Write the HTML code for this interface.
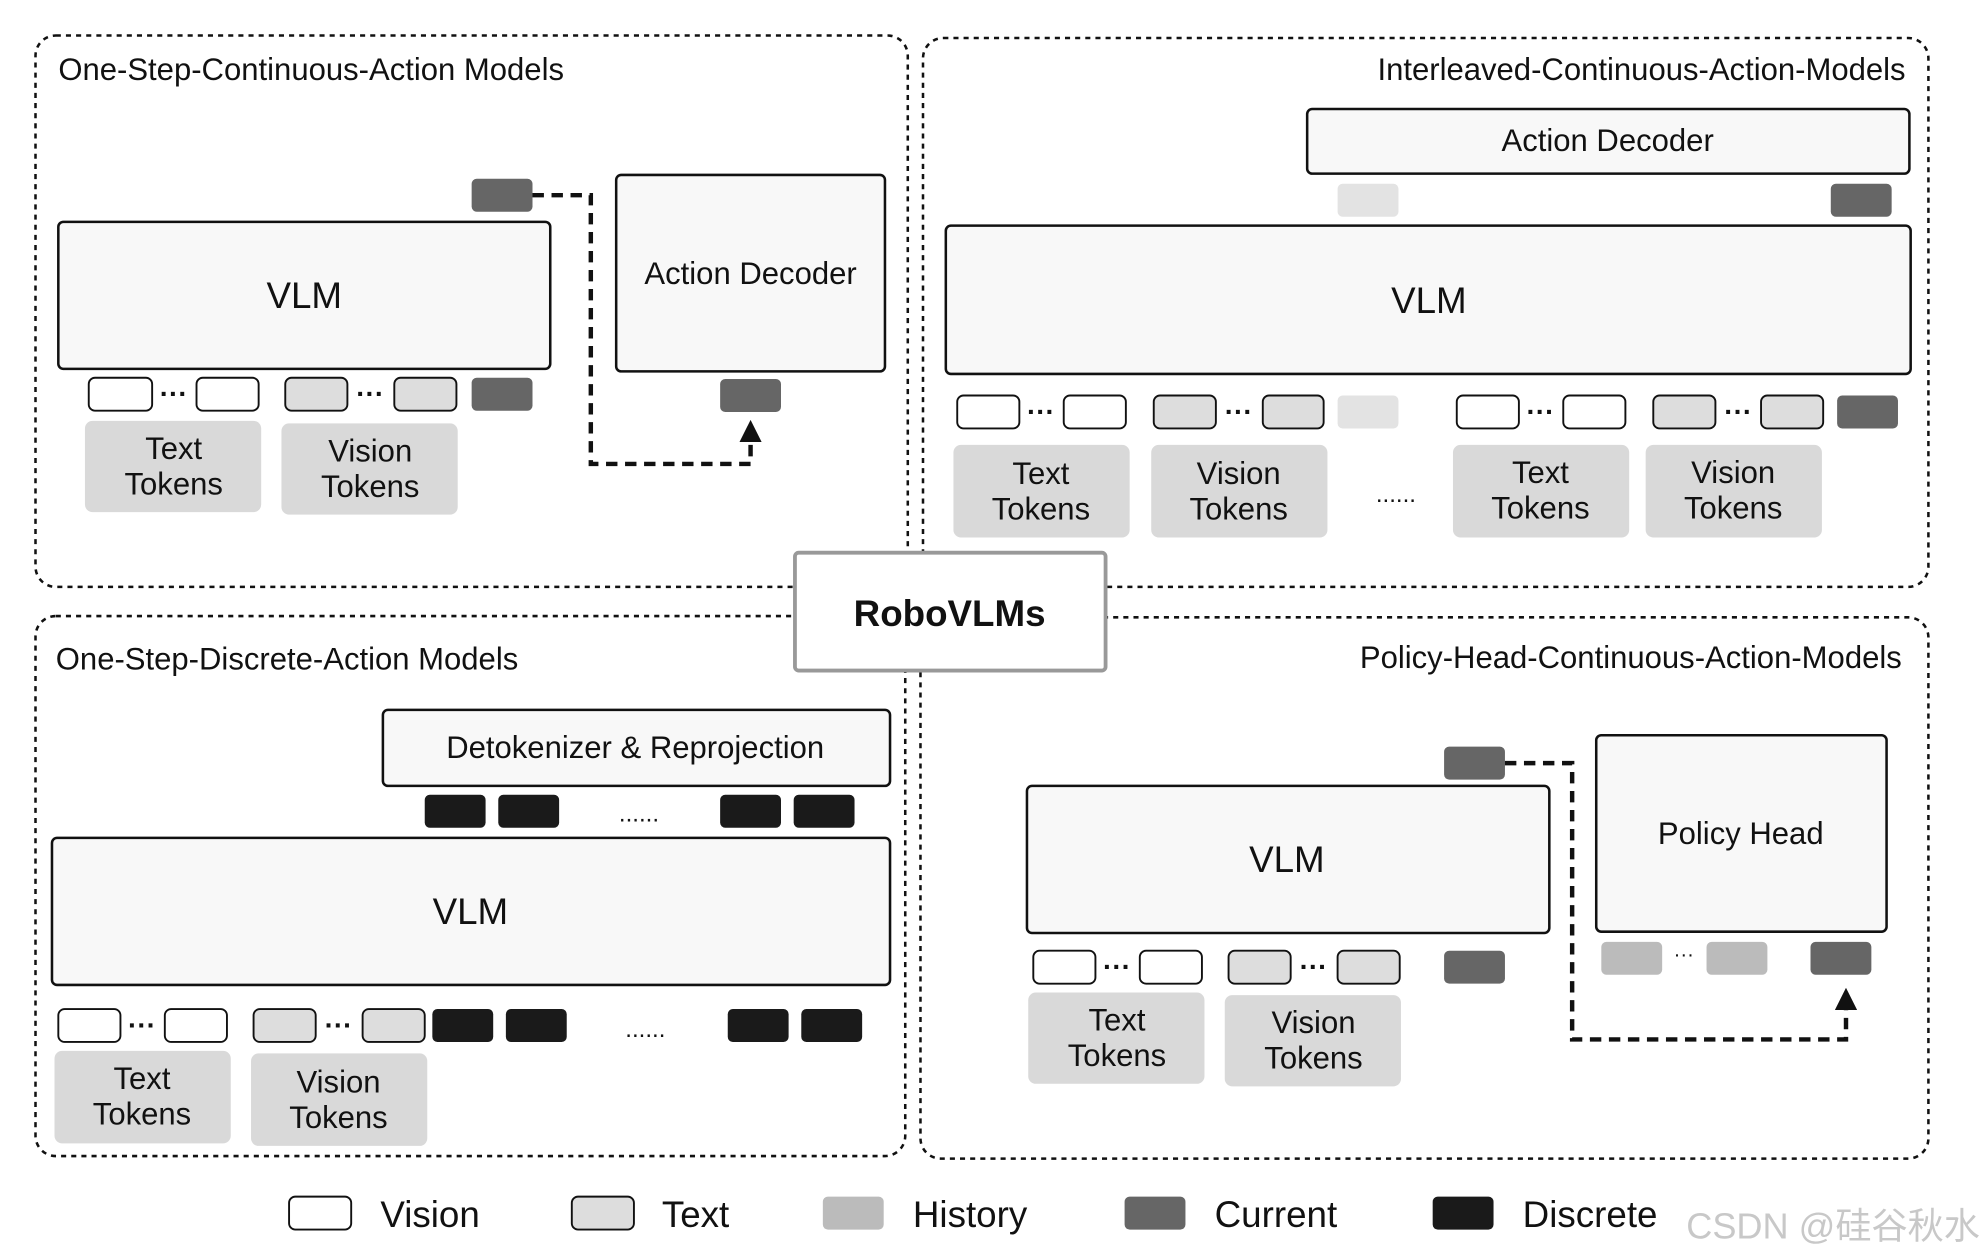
<!DOCTYPE html>
<html><head><meta charset="utf-8"><style>
html,body{margin:0;padding:0;background:#fff;}
svg{display:block;}
text{font-family:"Liberation Sans","Noto Sans CJK SC",sans-serif;fill:#111;}
</style></head><body>
<svg width="1988" height="1260" viewBox="0 0 1568 994" preserveAspectRatio="none" xmlns="http://www.w3.org/2000/svg">
<defs>
<marker id="ah" markerWidth="5" markerHeight="5" refX="2.5" refY="2.5" orient="auto"><path d="M0,0 L5,2.5 L0,5 Z" fill="#111"/></marker>
</defs>
<rect width="1568" height="994" fill="#fff"/>
<g fill="none" stroke="#111" stroke-width="2" stroke-dasharray="4,4">
<rect x="28" y="28" width="688" height="435" rx="16"/>
<rect x="728" y="30" width="793" height="433" rx="16"/>
<rect x="28" y="486" width="686" height="426" rx="16"/>
<rect x="726" y="487" width="795" height="427" rx="16"/>
</g>
<!-- TL -->
<text x="46" y="63" font-size="24.5">One-Step-Continuous-Action Models</text>
<rect x="46" y="175" width="388" height="116" rx="4" fill="#f8f8f8" stroke="#111" stroke-width="2"/>
<text x="240" y="243" font-size="29" text-anchor="middle">VLM</text>
<g stroke="#111" stroke-width="1.5">
<rect x="70" y="298" width="50" height="26" rx="5" fill="#fff"/><rect x="155" y="298" width="49" height="26" rx="5" fill="#fff"/>
<rect x="225" y="298" width="49" height="26" rx="5" fill="#ddd"/><rect x="311" y="298" width="49" height="26" rx="5" fill="#ddd"/>
</g>
<rect x="372" y="298" width="48" height="26" rx="4" fill="#666"/>
<text x="137" y="318" font-size="22" text-anchor="middle" font-weight="bold">···</text>
<text x="292" y="318" font-size="22" text-anchor="middle" font-weight="bold">···</text>
<rect x="67" y="332" width="139" height="72" rx="6" fill="#d9d9d9"/>
<text x="137" y="362" font-size="24.5" text-anchor="middle">Text</text><text x="137" y="390" font-size="24.5" text-anchor="middle">Tokens</text>
<rect x="222" y="334" width="139" height="72" rx="6" fill="#d9d9d9"/>
<text x="292" y="364" font-size="24.5" text-anchor="middle">Vision</text><text x="292" y="392" font-size="24.5" text-anchor="middle">Tokens</text>
<rect x="372" y="141" width="48" height="26" rx="4" fill="#666"/>
<polyline points="420,154 466,154 466,366 592,366 592,340" fill="none" stroke="#111" stroke-width="3.5" stroke-dasharray="9,6" marker-end="url(#ah)"/>
<rect x="486" y="138" width="212" height="155" rx="4" fill="#f8f8f8" stroke="#111" stroke-width="2"/>
<text x="592" y="224" font-size="24.5" text-anchor="middle">Action Decoder</text>
<rect x="568" y="299" width="48" height="26" rx="4" fill="#666"/>
<!-- TR -->
<text x="1503" y="63" font-size="24.5" text-anchor="end">Interleaved-Continuous-Action-Models</text>
<rect x="1031" y="86" width="475" height="51" rx="4" fill="#f8f8f8" stroke="#111" stroke-width="2"/>
<text x="1268" y="119" font-size="24.5" text-anchor="middle">Action Decoder</text>
<rect x="1055" y="145" width="48" height="26" rx="4" fill="#e3e3e3"/>
<rect x="1444" y="145" width="48" height="26" rx="4" fill="#666"/>
<rect x="746" y="178" width="761" height="117" rx="4" fill="#f8f8f8" stroke="#111" stroke-width="2"/>
<text x="1127" y="247" font-size="29" text-anchor="middle">VLM</text>
<g stroke="#111" stroke-width="1.5">
<rect x="755" y="312" width="49" height="26" rx="5" fill="#fff"/><rect x="839" y="312" width="49" height="26" rx="5" fill="#fff"/>
<rect x="910" y="312" width="49" height="26" rx="5" fill="#ddd"/><rect x="996" y="312" width="48" height="26" rx="5" fill="#ddd"/>
<rect x="1149" y="312" width="49" height="26" rx="5" fill="#fff"/><rect x="1233" y="312" width="49" height="26" rx="5" fill="#fff"/>
<rect x="1304" y="312" width="49" height="26" rx="5" fill="#ddd"/><rect x="1389" y="312" width="49" height="26" rx="5" fill="#ddd"/>
</g>
<rect x="1055" y="312" width="48" height="26" rx="4" fill="#e3e3e3"/>
<rect x="1449" y="312" width="48" height="26" rx="4" fill="#666"/>
<g font-size="22" text-anchor="middle" font-weight="bold"><text x="821" y="332">···</text><text x="977" y="332">···</text><text x="1215" y="332">···</text><text x="1371" y="332">···</text></g>
<g fill="#d9d9d9"><rect x="752" y="351" width="139" height="73" rx="6"/><rect x="908" y="351" width="139" height="73" rx="6"/><rect x="1146" y="351" width="139" height="73" rx="6"/><rect x="1298" y="351" width="139" height="73" rx="6"/></g>
<g font-size="24.5" text-anchor="middle">
<text x="821" y="382">Text</text><text x="821" y="410">Tokens</text>
<text x="977" y="382">Vision</text><text x="977" y="410">Tokens</text>
<text x="1215" y="381">Text</text><text x="1215" y="409">Tokens</text>
<text x="1367" y="381">Vision</text><text x="1367" y="409">Tokens</text>
</g>
<text x="1101" y="396" font-size="19" text-anchor="middle">......</text>
<!-- RoboVLMs -->
<rect x="627" y="436" width="245" height="93" rx="3" fill="#fff" stroke="#999" stroke-width="3"/>
<text x="749" y="494" font-size="29" font-weight="bold" text-anchor="middle">RoboVLMs</text>
<!-- BL -->
<text x="44" y="528" font-size="24.5">One-Step-Discrete-Action Models</text>
<rect x="302" y="560" width="400" height="60" rx="4" fill="#f8f8f8" stroke="#111" stroke-width="2"/>
<text x="501" y="598" font-size="24.5" text-anchor="middle">Detokenizer &amp; Reprojection</text>
<g fill="#1a1a1a"><rect x="335" y="627" width="48" height="26" rx="4"/><rect x="393" y="627" width="48" height="26" rx="4"/><rect x="568" y="627" width="48" height="26" rx="4"/><rect x="626" y="627" width="48" height="26" rx="4"/></g>
<text x="504" y="648" font-size="19" text-anchor="middle">......</text>
<rect x="41" y="661" width="661" height="116" rx="4" fill="#f8f8f8" stroke="#111" stroke-width="2"/>
<text x="371" y="729" font-size="29" text-anchor="middle">VLM</text>
<g stroke="#111" stroke-width="1.5">
<rect x="46" y="796" width="49" height="26" rx="5" fill="#fff"/><rect x="130" y="796" width="49" height="26" rx="5" fill="#fff"/>
<rect x="200" y="796" width="49" height="26" rx="5" fill="#ddd"/><rect x="286" y="796" width="49" height="26" rx="5" fill="#ddd"/>
</g>
<g fill="#1a1a1a"><rect x="341" y="796" width="48" height="26" rx="4"/><rect x="399" y="796" width="48" height="26" rx="4"/><rect x="574" y="796" width="48" height="26" rx="4"/><rect x="632" y="796" width="48" height="26" rx="4"/></g>
<g font-size="22" text-anchor="middle" font-weight="bold"><text x="112" y="816">···</text><text x="267" y="816">···</text></g>
<text x="509" y="818" font-size="19" text-anchor="middle">......</text>
<rect x="43" y="829" width="139" height="73" rx="6" fill="#d9d9d9"/><rect x="198" y="831" width="139" height="73" rx="6" fill="#d9d9d9"/>
<g font-size="24.5" text-anchor="middle"><text x="112" y="859">Text</text><text x="112" y="887">Tokens</text><text x="267" y="862">Vision</text><text x="267" y="890">Tokens</text></g>
<!-- BR -->
<text x="1500" y="527" font-size="24.5" text-anchor="end">Policy-Head-Continuous-Action-Models</text>
<rect x="1139" y="589" width="48" height="26" rx="4" fill="#666"/>
<polyline points="1187,602 1240,602 1240,820 1456,820 1456,788" fill="none" stroke="#111" stroke-width="3.5" stroke-dasharray="9,6" marker-end="url(#ah)"/>
<rect x="1259" y="580" width="229" height="155" rx="4" fill="#f8f8f8" stroke="#111" stroke-width="2"/>
<text x="1373" y="666" font-size="24.5" text-anchor="middle">Policy Head</text>
<rect x="810" y="620" width="412" height="116" rx="4" fill="#f8f8f8" stroke="#111" stroke-width="2"/>
<text x="1015" y="688" font-size="29" text-anchor="middle">VLM</text>
<g stroke="#111" stroke-width="1.5">
<rect x="815" y="750" width="49" height="26" rx="5" fill="#fff"/><rect x="899" y="750" width="49" height="26" rx="5" fill="#fff"/>
<rect x="969" y="750" width="49" height="26" rx="5" fill="#ddd"/><rect x="1055" y="750" width="49" height="26" rx="5" fill="#ddd"/>
</g>
<rect x="1139" y="750" width="48" height="26" rx="4" fill="#666"/>
<g font-size="22" text-anchor="middle" font-weight="bold"><text x="881" y="770">···</text><text x="1036" y="770">···</text></g>
<rect x="1263" y="743" width="48" height="26" rx="4" fill="#bbb"/><rect x="1346" y="743" width="48" height="26" rx="4" fill="#bbb"/>
<text x="1328" y="758" font-size="16" text-anchor="middle">···</text>
<rect x="1428" y="743" width="48" height="26" rx="4" fill="#666"/>
<rect x="811" y="783" width="139" height="72" rx="6" fill="#d9d9d9"/><rect x="966" y="785" width="139" height="72" rx="6" fill="#d9d9d9"/>
<g font-size="24.5" text-anchor="middle"><text x="881" y="813">Text</text><text x="881" y="841">Tokens</text><text x="1036" y="815">Vision</text><text x="1036" y="843">Tokens</text></g>
<!-- Legend -->
<rect x="228" y="944" width="49" height="26" rx="5" fill="#fff" stroke="#111" stroke-width="1.5"/>
<text x="300" y="968" font-size="29">Vision</text>
<rect x="451" y="944" width="49" height="26" rx="5" fill="#ddd" stroke="#111" stroke-width="1.5"/>
<text x="522" y="968" font-size="29">Text</text>
<rect x="649" y="944" width="48" height="26" rx="4" fill="#bbb"/>
<text x="720" y="968" font-size="29">History</text>
<rect x="887" y="944" width="48" height="26" rx="4" fill="#666"/>
<text x="958" y="968" font-size="29">Current</text>
<rect x="1130" y="944" width="48" height="26" rx="4" fill="#1a1a1a"/>
<text x="1201" y="968" font-size="29">Discrete</text>
<text x="1330" y="977" font-size="28.5" style="fill:#c8c8c8">CSDN @硅谷秋水</text>
</svg>
</body></html>
